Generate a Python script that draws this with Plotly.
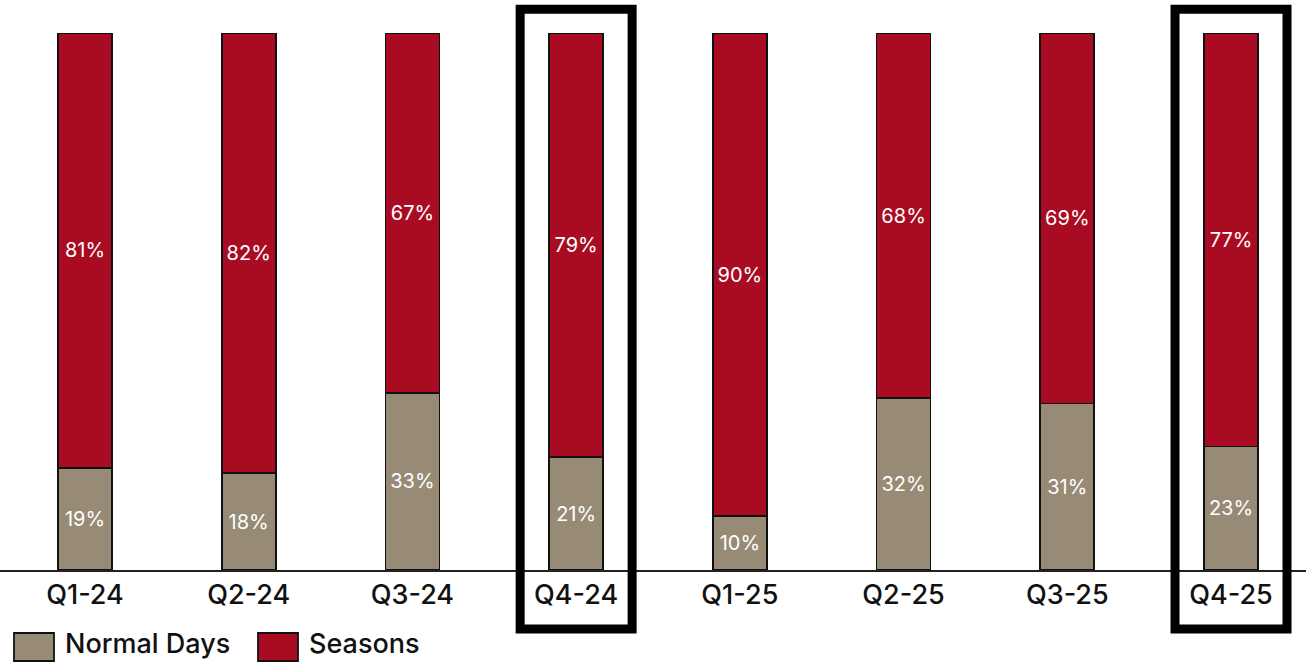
import plotly.graph_objects as go

# Quarterly share of bookings: normal days vs. seasonal periods (percent)
quarters = ["Q1-24", "Q2-24", "Q3-24", "Q4-24", "Q1-25", "Q2-25", "Q3-25", "Q4-25"]
normal_days = [19, 18, 33, 21, 10, 32, 31, 23]
seasons = [81, 82, 67, 79, 90, 68, 69, 77]
highlighted = ["Q4-24", "Q4-25"]

COLOR_NORMAL = "#978B76"
COLOR_SEASONS = "#A90C22"
FONT = "Inter"

X_RANGE = [-0.519, 7.458]
BAR_WIDTH = 0.33

fig = go.Figure()
for name, vals, color in [("Normal Days", normal_days, COLOR_NORMAL),
                          ("Seasons", seasons, COLOR_SEASONS)]:
    fig.add_trace(go.Bar(
        x=quarters, y=vals, name=name,
        width=BAR_WIDTH,
        marker=dict(color=color, line=dict(color="#111111", width=1.8)),
        text=[f"{v}%" for v in vals],
        textposition="inside", insidetextanchor="middle", textangle=0,
        textfont=dict(color="white", size=20, family=FONT),
        constraintext="none",
        showlegend=False,
        hoverinfo="skip",
    ))

# Outline boxes around highlighted quarters (paper coordinates derived from axis range)
span = X_RANGE[1] - X_RANGE[0]
half_box = 0.342
for q in highlighted:
    i = quarters.index(q)
    x0 = (i - half_box - X_RANGE[0]) / span
    x1 = (i + half_box - X_RANGE[0]) / span
    fig.add_shape(type="rect", xref="paper", yref="paper",
                  x0=x0, x1=x1, y0=-0.110, y1=1.044,
                  line=dict(color="black", width=9), fillcolor="rgba(0,0,0,0)")

# Custom legend with large swatches
legend_items = [("Normal Days", COLOR_NORMAL, 14), ("Seasons", COLOR_SEASONS, 258)]
W, H = 1306, 663
plot_top, plot_bottom = 33, 570
ph = plot_bottom - plot_top
for label, color, px in legend_items:
    fig.add_shape(type="rect", xref="paper", yref="paper",
                  x0=px / W, x1=(px + 40) / W,
                  y0=(plot_bottom - 661) / ph, y1=(plot_bottom - 633) / ph,
                  fillcolor=color, line=dict(color="#111111", width=1.8))
    fig.add_annotation(xref="paper", yref="paper", x=(px + 49) / W,
                       y=(plot_bottom - 643) / ph, text=label, showarrow=False,
                       xanchor="left", yanchor="middle",
                       font=dict(family=FONT, size=27, color="#111111", weight=500))

fig.update_layout(
    width=W, height=H,
    margin=dict(l=0, r=0, t=plot_top, b=H - plot_bottom),
    barmode="stack",
    plot_bgcolor="white", paper_bgcolor="white",
    font=dict(family=FONT),
    xaxis=dict(range=X_RANGE, showgrid=False, zeroline=False,
               showline=True, linecolor="#222222", linewidth=2,
               ticks="", tickfont=dict(family=FONT, size=27, color="#111111", weight=500)),
    yaxis=dict(range=[0, 100], visible=False),
)

fig.write_html("out.html")
